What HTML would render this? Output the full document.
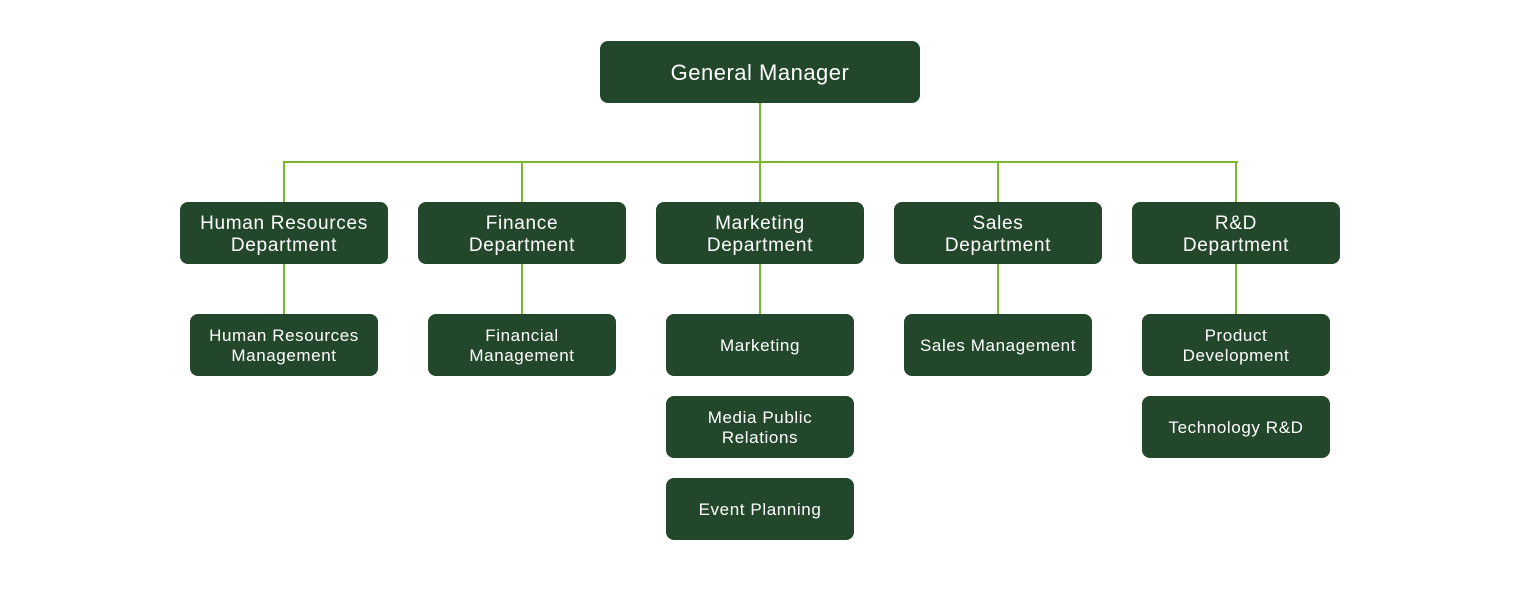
<!DOCTYPE html>
<html>
<head>
<meta charset="utf-8">
<style>
  html, body { margin:0; padding:0; background:#ffffff; }
  body { width:1520px; height:600px; position:relative; overflow:hidden;
         font-family:"Liberation Sans", "DejaVu Sans", sans-serif; }
  .box { position:absolute; background:#23472b; color:#ffffff; border-radius:8px;
         display:flex; align-items:center; justify-content:center; text-align:center; box-sizing:border-box; }
  .gm { left:600px; top:41px; width:320px; height:62px; font-size:22px; letter-spacing:0.5px; padding-top:2px; }
  .dept { top:202px; width:208px; height:62px; font-size:19px; line-height:22px; letter-spacing:0.7px; padding-top:3px; }
  .sub { width:188px; height:62px; font-size:17px; line-height:20px; letter-spacing:0.6px; padding-top:2px; }
  .line { position:absolute; background:#7cb82f; }
</style>
</head>
<body>
  <!-- connectors -->
  <div class="line" style="left:759px; top:103px; width:2px; height:99px;"></div>
  <div class="line" style="left:283px; top:161px; width:955px; height:2px;"></div>
  <div class="line" style="left:283px; top:161px; width:2px; height:41px;"></div>
  <div class="line" style="left:521px; top:161px; width:2px; height:41px;"></div>
  <div class="line" style="left:997px; top:161px; width:2px; height:41px;"></div>
  <div class="line" style="left:1235px; top:161px; width:2px; height:41px;"></div>

  <div class="line" style="left:283px; top:263px; width:2px; height:51px;"></div>
  <div class="line" style="left:521px; top:263px; width:2px; height:51px;"></div>
  <div class="line" style="left:759px; top:263px; width:2px; height:51px;"></div>
  <div class="line" style="left:997px; top:263px; width:2px; height:51px;"></div>
  <div class="line" style="left:1235px; top:263px; width:2px; height:51px;"></div>

  <!-- top -->
  <div class="box gm">General Manager</div>

  <!-- departments -->
  <div class="box dept" style="left:180px;">Human Resources<br>Department</div>
  <div class="box dept" style="left:418px;">Finance<br>Department</div>
  <div class="box dept" style="left:656px;">Marketing<br>Department</div>
  <div class="box dept" style="left:894px;">Sales<br>Department</div>
  <div class="box dept" style="left:1132px;">R&amp;D<br>Department</div>

  <!-- sub units -->
  <div class="box sub" style="left:190px; top:314px;">Human Resources<br>Management</div>
  <div class="box sub" style="left:428px; top:314px;">Financial<br>Management</div>
  <div class="box sub" style="left:666px; top:314px;">Marketing</div>
  <div class="box sub" style="left:666px; top:396px;">Media Public<br>Relations</div>
  <div class="box sub" style="left:666px; top:478px;">Event Planning</div>
  <div class="box sub" style="left:904px; top:314px;">Sales Management</div>
  <div class="box sub" style="left:1142px; top:314px;">Product<br>Development</div>
  <div class="box sub" style="left:1142px; top:396px;">Technology R&amp;D</div>
</body>
</html>
